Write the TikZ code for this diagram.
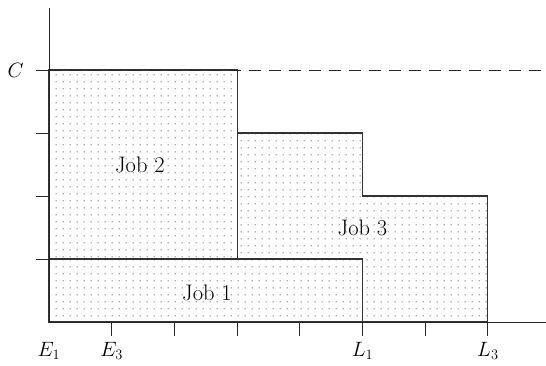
\documentclass[tikz,border=0pt]{standalone}
\usetikzlibrary{patterns.meta}
\tikzdeclarepattern{
  name=sparsedots,
  type=uncolored,
  bounding box={(0pt,0pt) and (6.6pt,6.6pt)},
  tile size={(6.6pt,6.6pt)},
  code={\fill (3.3pt,3.3pt) circle (0.65pt);}
}
\begin{document}
\begin{tikzpicture}[x=62.7pt,y=63pt,
  jobbox/.style={draw=black!80,line width=1.1pt,pattern=sparsedots,pattern color=black!80},
  axisline/.style={draw=black!85,line width=0.9pt},
  tickline/.style={draw=black!85,line width=0.9pt},
  lbl/.style={font=\fontsize{22.5}{27}\selectfont,inner sep=0pt},
  cutline/.style={draw=black!85,line width=0.9pt,dash pattern=on 12pt off 8pt}]
\useasboundingbox (-0.781,-0.683) rectangle (7.927,5.111);
% jobs
\draw[jobbox] (0,0) rectangle (5,1);
\draw[jobbox] (0,1) rectangle (3,4);
\draw[jobbox] (3,1) -- (3,3) -- (5,3) -- (5,2) -- (7,2) -- (7,0) -- (5,0) -- (5,1) -- cycle;
% axes
\coordinate (o) at (0,0);
\coordinate (ytop) at (0,4.98);
\coordinate (xend) at (7.927,0);
\draw[axisline] (o) -- (ytop);
\draw[axisline] (o) -- (xend);
% dashed capacity line
\coordinate (c0) at (0,4);
\coordinate (c1) at (7.927,4);
\draw[cutline] (c0) -- (c1);
% ticks
\foreach \i in {1,...,7} \draw[tickline] (\i,0) -- (\i,-0.22);
\foreach \j in {1,...,4} \draw[tickline] (0,\j) -- (-0.21,\j);
% labels
\node[lbl] (cl) at (-0.53,4) {$C$};
\node[lbl] (e1) at (0,-0.46) {$E_1$};
\node[lbl] (e3) at (1,-0.46) {$E_3$};
\node[lbl] (l1) at (5,-0.46) {$L_1$};
\node[lbl] (l3) at (7,-0.46) {$L_3$};
\node[lbl] (j2) at (1.45,2.49) {Job 2};
\node[lbl] (j3) at (5.0,1.49) {Job 3};
\node[lbl] (j1) at (2.52,0.46) {Job 1};
\end{tikzpicture}
\end{document}
